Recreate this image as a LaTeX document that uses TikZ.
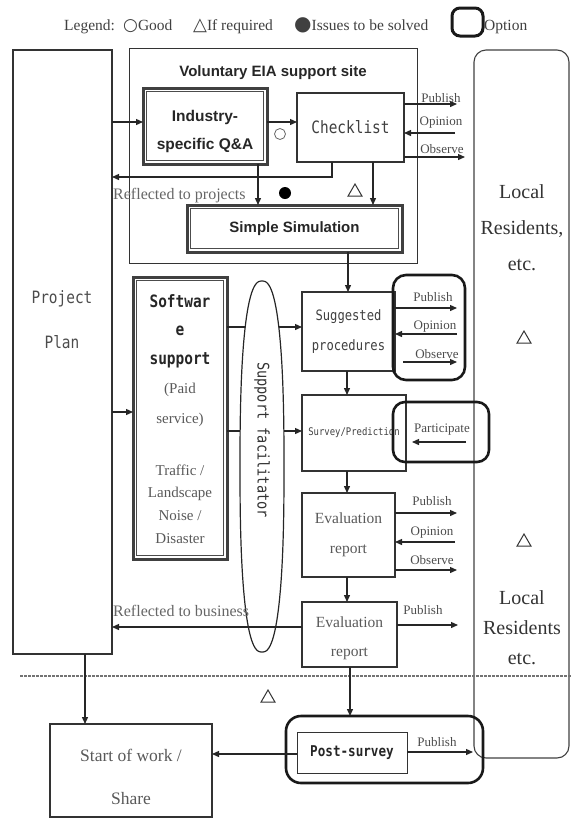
\documentclass[tikz,border=0pt]{standalone}
\usepackage{fontspec}
\setmainfont{Liberation Serif}
\newfontfamily\gothic[FakeStretch=0.85]{DejaVu Sans Mono}
\newfontfamily\sansfnt{Liberation Sans}
\newfontfamily\symfnt{DejaVu Sans}
\usetikzlibrary{arrows.meta,shapes.geometric,calc}
\newcommand\fsz[2]{\fontsize{#1}{#2}\selectfont}
\tikzset{
  box/.style={draw=black!80, line width=1.2pt, inner sep=0pt, outer sep=0pt},
  thinbox/.style={draw=black!80, line width=1pt, inner sep=0pt, outer sep=0pt},
  thickbox/.style={draw=black!75, line width=3pt, inner sep=0pt, outer sep=0pt},
  innerline/.style={draw=black!70, line width=0.7pt},
  optbox/.style={draw=black!90, line width=2.6pt, rounded corners=13pt, inner sep=0pt, outer sep=0pt},
  arr/.style={-{Triangle[length=7pt,width=6pt]}, line width=1.3pt, draw=black!85},
  plain/.style={line width=1.3pt, draw=black!85},
  lab/.style={font=\fsz{13}{15}, text=black!70, inner sep=0pt, anchor=base},
  legtxt/.style={font=\fsz{15.5}{17}, text=black!75, anchor=base west, inner sep=0pt},
  reftxt/.style={font=\fsz{16}{18}, text=black!60, anchor=base west, inner sep=0pt},
  tri/.style={draw=black!80, line width=1pt, regular polygon, regular polygon sides=3, minimum size=16pt, inner sep=0pt},
}
\begin{document}
\begin{tikzpicture}[x=1pt,y=-1pt]
\useasboundingbox (0,0) rectangle (571,820);

% ---------- legend
\node[legtxt] (lg1) at (64,30) {Legend:};
\node[legtxt] (lg2) at (123,30) {{\symfnt\fsz{17}{14}○}Good};
\node[legtxt] (lg3) at (193,30) {{\symfnt\fsz{18}{14}△}If required};
\node[legtxt] (lg4) at (294,30) {{\symfnt\fsz{20}{14}●}Issues to be solved};
\node[optbox, line width=3pt, rounded corners=8pt, minimum width=31pt, minimum height=28pt] (lgbox) at (467.5,22) {};
\node[legtxt] (lg5) at (484,30) {Option};

% ---------- big boxes
\node[box, minimum width=99pt, minimum height=604pt] (pp) at (62.5,352) {};
\node[font=\gothic\fsz{17}{45}, text=black!70, align=center] (ppt) at (62,319.5) {Project\\Plan};

\node[draw=black!75, line width=1.1pt, rounded corners=12pt, minimum width=95pt, minimum height=708pt, inner sep=0pt, outer sep=0pt] (loc) at (521.5,404) {};
\node[font=\fsz{20}{36}, text=black!80, align=center] (loc1) at (522,228) {Local\\Residents,\\etc.};
\node[font=\fsz{20}{30}, text=black!80, align=center] (loc2) at (522,628) {Local\\Residents\\etc.};
\node[tri] (t2) at (524,339) {};
\node[tri] (t3) at (524,542) {};

% ---------- support site
\node[thinbox, minimum width=288pt, minimum height=215pt] (site) at (273,155.5) {};
\node[font=\sansfnt\bfseries\fsz{15}{18}, text=black!85] (sitet) at (273,73) {Voluntary EIA support site};

\node[thickbox, minimum width=124pt, minimum height=76pt] (qa) at (205,126) {};
\draw[innerline] ([xshift=3.2pt,yshift=-3.2pt]qa.north west) rectangle ([xshift=-3.2pt,yshift=3.2pt]qa.south east);
\node[font=\sansfnt\bfseries\fsz{15.5}{28}, text=black!85, align=center] (qat) at (205,131) {Industry-\\specific Q\&A};

\node[box, minimum width=107pt, minimum height=69pt, font=\gothic\fsz{17}{20}, text=black!75] (chk) at (350.5,127.5) {Checklist};
\node[circle, draw=black!60, line width=0.8pt, minimum size=11pt, inner sep=0pt] (good) at (280,134) {};

\draw[arr] (pp.east |- 0,122) -- (qa.west |- 0,122);
\draw[arr] (qa.east |- 0,122) -- (chk.west |- 0,122);

\draw[arr] (chk.east |- 0,104) -- ++(53,0);
\node[lab] (cpub) at (441,102) {Publish};
\draw[arr] (chk.east |- 0,133) ++(51,0) -- (chk.east |- 0,133);
\node[lab] (copi) at (441,125) {Opinion};
\draw[arr] (chk.east |- 0,157) -- ++(61,0);
\node[lab] (cobs) at (442,153) {Observe};

\node[thickbox, minimum width=215pt, minimum height=47pt, font=\sansfnt\bfseries\fsz{15}{18}, text=black!85] (sim) at (294.5,228.5) {Simple Simulation};
\draw[innerline] ([xshift=3.2pt,yshift=-3.2pt]sim.north west) rectangle ([xshift=-3.2pt,yshift=3.2pt]sim.south east);

\draw[arr] (chk.south -| 332,0) |- (pp.east |- 0,177);
\node[reftxt] (rproj) at (113,199) {Reflected to projects};
\draw[arr] (qa.south -| 258,0) -- (sim.north -| 258,0);
\draw[arr] (chk.south -| 373,0) -- (sim.north -| 373,0);
\node[circle, fill=black, minimum size=12pt, inner sep=0pt] (issue) at (285,193) {};
\node[tri] (t1) at (355,192) {};

% ---------- software support
\node[thickbox, minimum width=94pt, minimum height=282pt] (sw) at (180,418) {};
\draw[innerline] ([xshift=3.2pt,yshift=-3.2pt]sw.north west) rectangle ([xshift=-3.2pt,yshift=3.2pt]sw.south east);
\node[font=\gothic\bfseries\fsz{17}{28.5}, text=black!85, align=center] (swt) at (180,331) {Softwar\\e\\support};
\node[font=\fsz{15}{30}, text=black!65, align=center] (swp) at (180,405) {(Paid\\service)};
\node[font=\fsz{15}{22.7}, text=black!65, align=center] (swl) at (180,504) {Traffic /\\Landscape\\Noise /\\Disaster};
\draw[arr] (pp.east |- 0,412) -- (sw.west |- 0,412);

% ---------- support facilitator
\coordinate (fac) at (262,466.5);
\draw[line width=1.2pt, draw=black!85] plot[domain=1.5:361.5, samples=121, variable=\t]
  ({262+22*sign(cos(\t))*abs(cos(\t))^(0.8)}, {466.5+185.5*sign(sin(\t))*abs(sin(\t))^(0.8)});
\node[font=\gothic\fsz{16}{18}, text=black!80, rotate=-90] (fact) at (262,440) {Support facilitator};
\coordinate (facL1) at (245.2,327);
\coordinate (facR1) at (278.8,327);
\coordinate (facL2) at (240.2,431);
\coordinate (facR2) at (283.8,431);

% ---------- suggested procedures
\node[box, minimum width=93pt, minimum height=79pt, font=\gothic\fsz{14.3}{30}, text=black!75, align=center] (sug) at (348.5,331.5) {Suggested\\procedures};
\draw[plain] (sw.east |- 0,327) -- (facL1);
\draw[arr] (facR1) -- (sug.west |- 0,327);
\draw[arr] (sim.south -| 348,0) -- (sug.north -| 348,0);

\draw[arr] (sug.east |- 0,308) -- ++(62,0);
\node[lab] (spub) at (433,301) {Publish};
\draw[arr] (sug.east |- 0,334) ++(62,0) -- (sug.east |- 0,334);
\node[lab] (sopi) at (435,329) {Opinion};
\draw[arr] (sug.east |- 0,362) ++(8,0) -- ++(54,0);
\node[lab] (sobs) at (437,358) {Observe};
\node[optbox, minimum width=72pt, minimum height=105pt] (opt1) at (429,327.5) {};

% ---------- survey / prediction
\node[box, minimum width=104pt, minimum height=76pt, font=\gothic\fsz{10.5}{12}, text=black!75] (sur) at (354,433) {Survey/Prediction};
\draw[arr] (sug.south -| 347,0) -- (sur.north -| 347,0);
\draw[plain] (sw.east |- 0,431) -- (facL2);
\draw[arr] (facR2) -- (sur.west |- 0,431);
\node[optbox, rounded corners=12pt, minimum width=96pt, minimum height=60pt] (opt2) at (441,432) {};
\node[lab] (part) at (442,432) {Participate};
\draw[arr] (opt2.east |- 0,442) ++(-23,0) -- ++(-54,0);

% ---------- evaluation report 1
\node[box, line width=2pt, minimum width=93pt, minimum height=84pt, font=\fsz{15.5}{30}, text=black!65, align=center] (ev1) at (348.5,535) {Evaluation\\report};
\draw[arr] (sur.south -| 347,0) -- (ev1.north -| 347,0);
\draw[arr] (ev1.east |- 0,513) -- ++(62,0);
\node[lab] (epub) at (432,505) {Publish};
\draw[arr] (ev1.east |- 0,542) ++(60,0) -- (ev1.east |- 0,542);
\node[lab] (eopi) at (432,535) {Opinion};
\draw[arr] (ev1.east |- 0,570) -- ++(62,0);
\node[lab] (eobs) at (432,564) {Observe};

% ---------- evaluation report 2
\node[box, minimum width=95pt, minimum height=65pt] (ev2) at (349.5,634.5) {};
\node[font=\fsz{15.5}{29}, text=black!65, align=center] (ev2t) at (349.5,638.5) {Evaluation\\report};
\draw[arr] (ev1.south -| 347,0) -- (ev2.north -| 347,0);
\draw[arr] (ev2.east |- 0,625) -- ++(61,0);
\node[lab] (e2pub) at (423,614) {Publish};
\draw[arr] (ev2.west |- 0,627) -- (pp.east |- 0,627);
\node[reftxt] (rbus) at (113,616) {Reflected to business};

% ---------- dashed separator
\coordinate (dl) at (20,676);
\coordinate (dr) at (571,676);
\draw[draw=black!55, line width=1.2pt, dash pattern=on 3pt off 1pt] (dl) -- (dr);
\node[tri] (t4) at (268,698) {};

% ---------- start of work
\node[box, minimum width=162pt, minimum height=93pt] (start) at (131,770.5) {};
\node[font=\fsz{17.5}{43}, text=black!65, align=center] (startt) at (131,776.5) {Start of work /\\Share};
\draw[arr] (pp.south -| 85,0) -- (start.north -| 85,0);

% ---------- post-survey
\node[optbox, rounded corners=15pt, minimum width=197pt, minimum height=67pt] (popt) at (384.5,749.5) {};
\node[box, line width=1pt, minimum width=110pt, minimum height=41pt, font=\gothic\bfseries\fsz{14.85}{17}, text=black!85] (post) at (352,752.5) {Post-survey};
\draw[arr] (ev2.south -| 350,0) -- (popt.north -| 350,0);
\draw[arr] (post.east |- 0,752) -- ++(66,0);
\node[lab] (ppub) at (437,746) {Publish};
\draw[arr] (post.west |- 0,754) -- (start.east |- 0,754);
\end{tikzpicture}
\end{document}
